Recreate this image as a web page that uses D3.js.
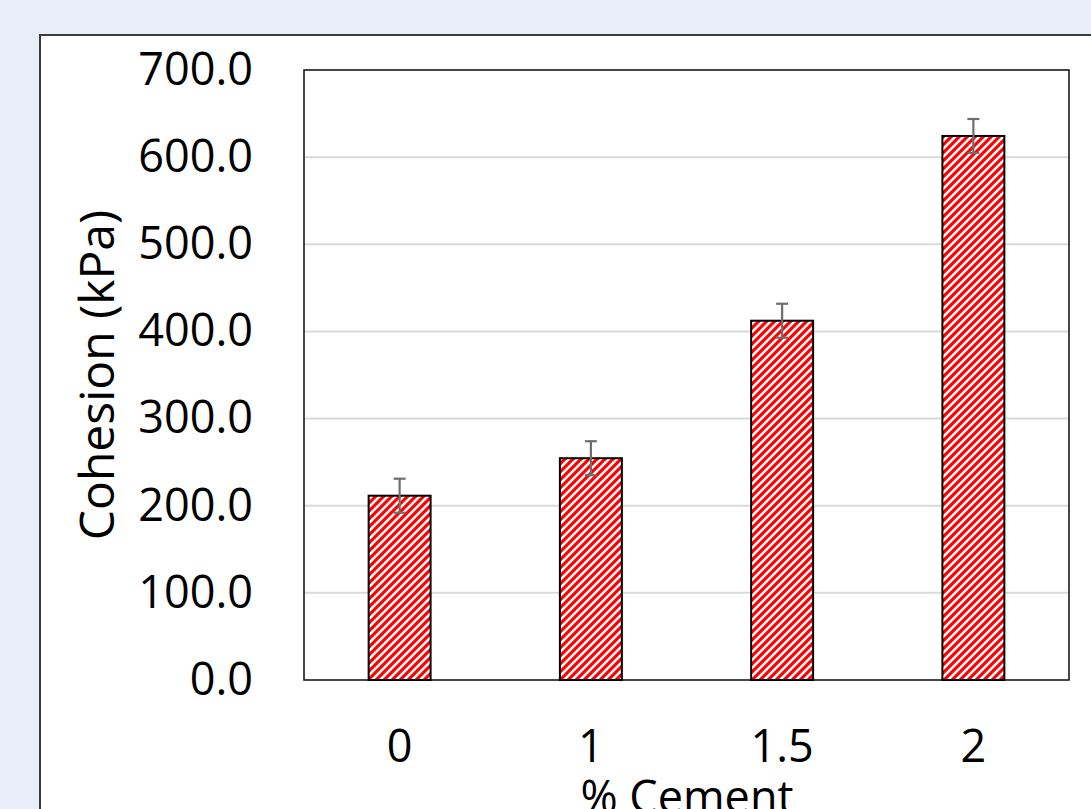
<!DOCTYPE html>
<html>
<head>
<meta charset="utf-8">
<script src="https://cdn.jsdelivr.net/npm/d3@7"></script>
<style>
html,body{margin:0;padding:0;background:#e7eef7;overflow:hidden;}
svg{display:block;}
text{font-family:"Open Sans",sans-serif;fill:#000;}
</style>
</head>
<body>
<svg id="chart" width="1091" height="809"></svg>
<script>
const categories = ["0", "1", "1.5", "2"];
const cohesion = [211.5, 254.5, 412.3, 624.3];
const errors = [19.5, 19.5, 19.5, 19.5];
const yTicks = [0, 100, 200, 300, 400, 500, 600, 700];
const yTitle = "Cohesion (kPa)";
const xTitle = "% Cement";

const svg = d3.select("#chart");
const W = 1091, H = 809;
const plot = {left: 304, top: 70, right: 1069, bottom: 680};

// outer chart area frame (extends past the canvas)
svg.append("rect").attr("x", 40).attr("y", 35).attr("width", W + 20).attr("height", H + 20)
  .attr("fill", "#fff").attr("stroke", "#3a3a3a").attr("stroke-width", 2);

const defs = svg.append("defs");
const pat = defs.append("pattern").attr("id", "hatch").attr("patternUnits", "userSpaceOnUse")
  .attr("width", 8).attr("height", 8);
pat.append("rect").attr("width", 8).attr("height", 8).attr("fill", "#fff");
pat.append("path").attr("d", "M-2,2 L2,-2 M0,8 L8,0 M6,10 L10,6")
  .attr("stroke", "#ff0000").attr("stroke-width", 3.1);

const x = d3.scaleBand().domain(categories).range([plot.left, plot.right])
  .paddingInner(0.676).paddingOuter(0.338);
const y = d3.scaleLinear().domain([0, 700]).range([plot.bottom, plot.top]);

// gridlines
svg.append("g").selectAll("line").data(yTicks.filter(d => d > 0 && d < 700)).join("line")
  .attr("x1", plot.left).attr("x2", plot.right)
  .attr("y1", d => y(d)).attr("y2", d => y(d))
  .attr("stroke", "#d9d9d9").attr("stroke-width", 2);

// plot border
svg.append("rect").attr("x", plot.left).attr("y", plot.top)
  .attr("width", plot.right - plot.left).attr("height", plot.bottom - plot.top)
  .attr("fill", "none").attr("stroke", "#1a1a1a").attr("stroke-width", 1.6);

// bars
svg.append("g").selectAll("rect").data(cohesion).join("rect")
  .attr("x", (d, i) => x(categories[i]))
  .attr("y", d => y(d))
  .attr("width", x.bandwidth())
  .attr("height", d => y(0) - y(d))
  .attr("fill", "url(#hatch)").attr("stroke", "#000").attr("stroke-width", 2);

// error bars
const eb = svg.append("g").attr("stroke", "#6e6e6e").attr("stroke-width", 2.2);
cohesion.forEach((v, i) => {
  const cx = x(categories[i]) + x.bandwidth() / 2;
  const hi = y(v + errors[i]), lo = y(v - errors[i]);
  eb.append("line").attr("x1", cx).attr("x2", cx).attr("y1", hi).attr("y2", lo);
  eb.append("line").attr("x1", cx - 6).attr("x2", cx + 6).attr("y1", hi).attr("y2", hi);
  eb.append("line").attr("x1", cx - 6).attr("x2", cx + 6).attr("y1", lo).attr("y2", lo);
});

// y axis
const yAxis = d3.axisLeft(y).tickValues(yTicks).tickFormat(d3.format(".1f")).tickSize(0).tickPadding(51);
const gy = svg.append("g").attr("transform", `translate(${plot.left},0)`).call(yAxis);
gy.select(".domain").remove();
gy.selectAll("text").style("font-family", '"Open Sans",sans-serif').style("font-size", "45px").attr("fill", "#000");

// x axis
const xAxis = d3.axisBottom(x).tickSize(0).tickPadding(50);
const gx = svg.append("g").attr("transform", `translate(0,${plot.bottom})`).call(xAxis);
gx.select(".domain").remove();
gx.selectAll("text").style("font-family", '"Open Sans",sans-serif').style("font-size", "45px").attr("fill", "#000");

// titles
svg.append("text").attr("transform", `translate(114,${(plot.top + plot.bottom) / 2}) rotate(-90)`)
  .attr("text-anchor", "middle").style("font-size", "48px").text(yTitle);
svg.append("text").attr("x", 687).attr("y", 813)
  .attr("text-anchor", "middle").style("font-size", "45px").text(xTitle);
</script>
</body>
</html>
